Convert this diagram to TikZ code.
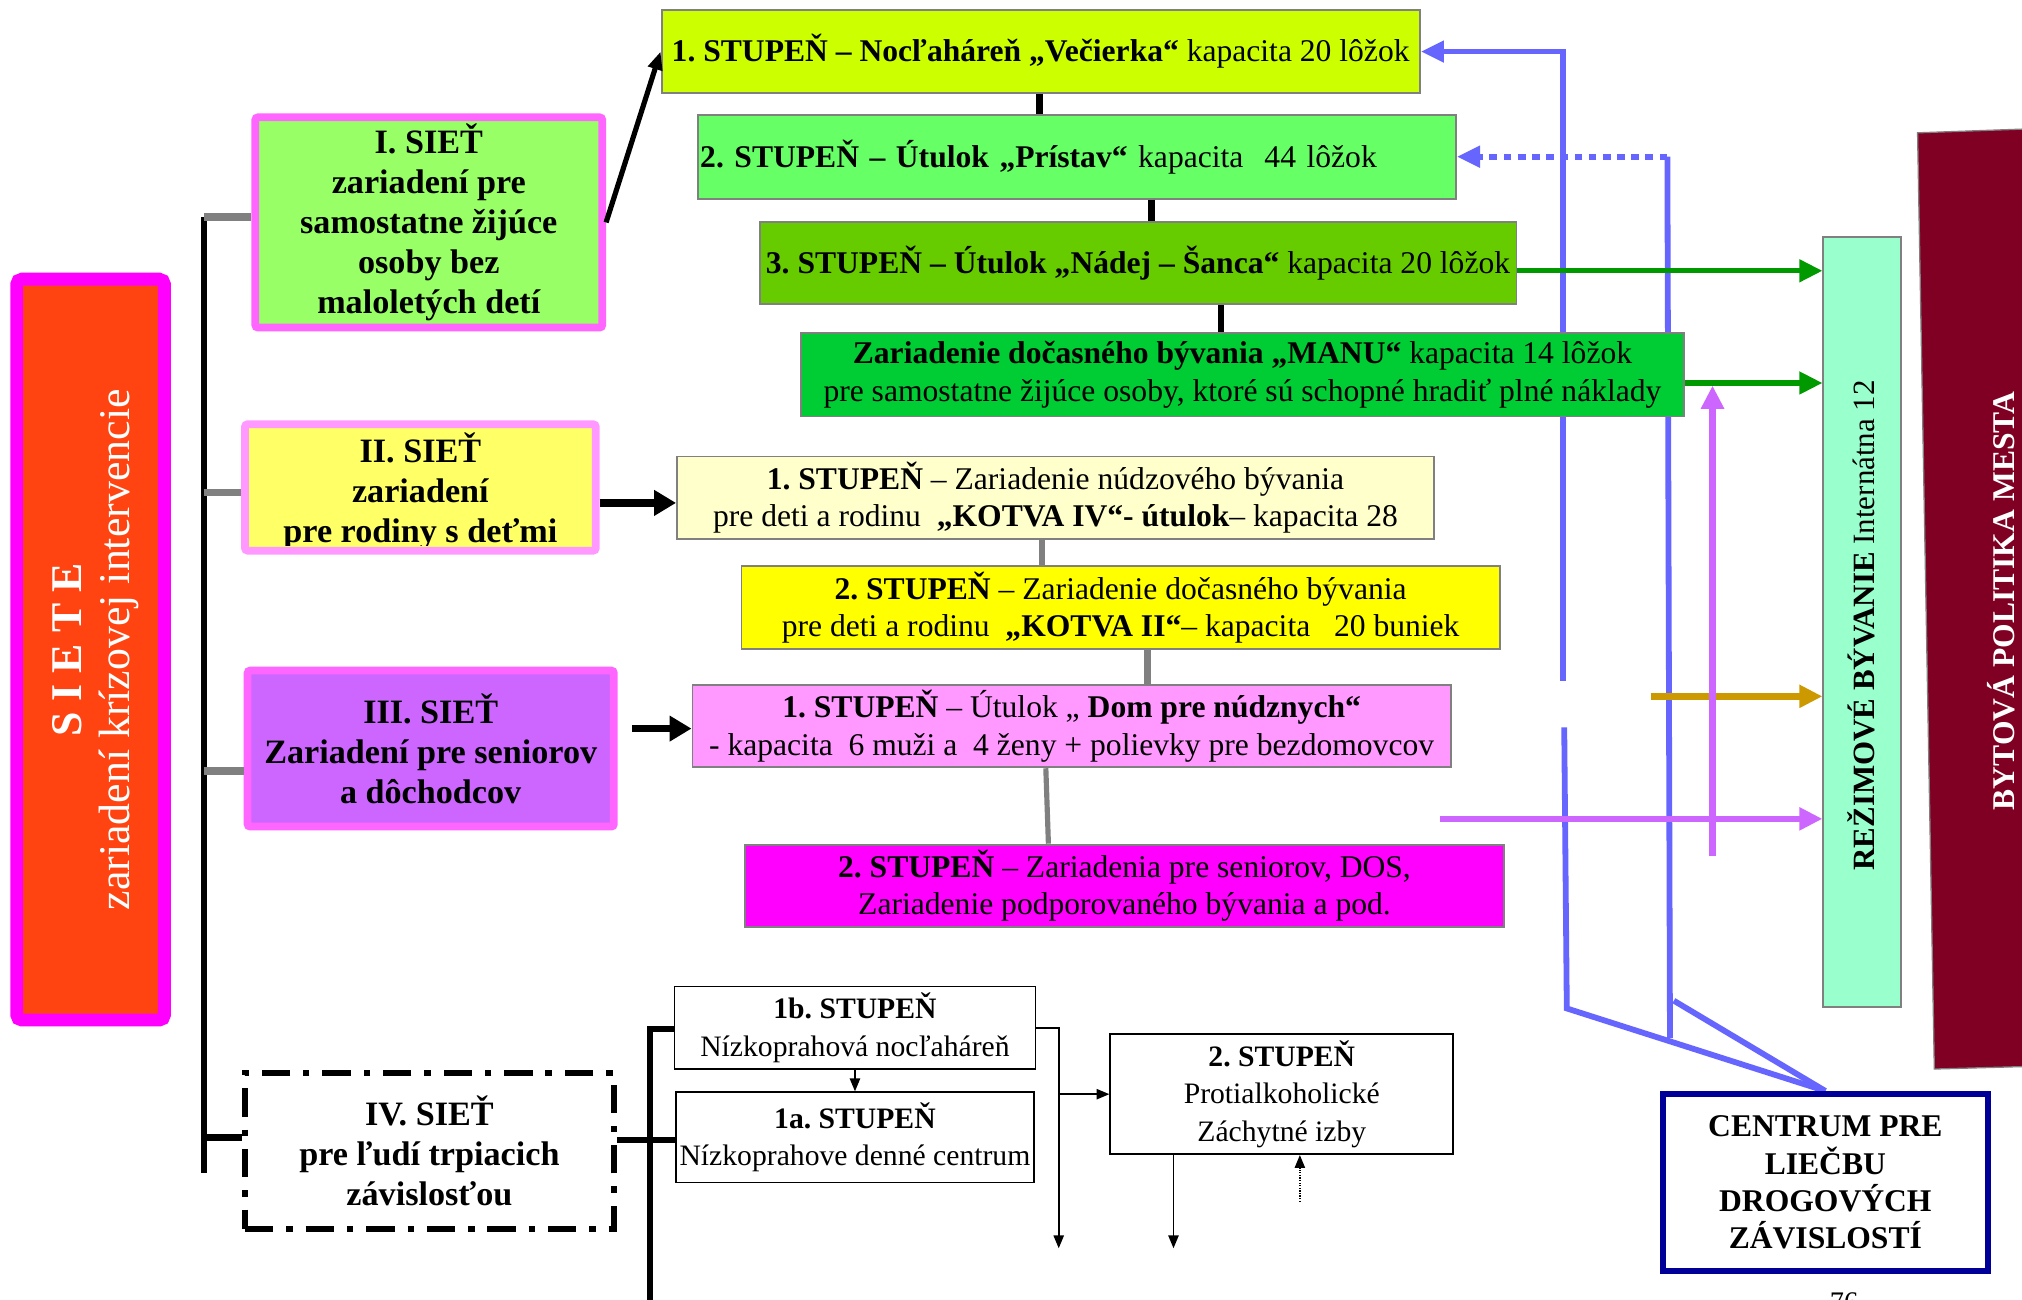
\documentclass[tikz,border=0pt]{standalone}
\usepackage{fontspec}
\setmainfont{Liberation Serif}
\usetikzlibrary{arrows.meta}
\frenchspacing
\pgfdeclarelayer{bg}
\pgfsetlayers{bg,main}
\definecolor{boxgray}{HTML}{808080}
\definecolor{cSa}{HTML}{CCFF00}
\definecolor{cSb}{HTML}{66FF66}
\definecolor{cSc}{HTML}{66CC00}
\definecolor{cManu}{HTML}{00CC33}
\definecolor{cKa}{HTML}{FFFFCC}
\definecolor{cKb}{HTML}{FFFF00}
\definecolor{cDom}{HTML}{FF99FF}
\definecolor{cDos}{HTML}{FF00FF}
\definecolor{cMint}{HTML}{99FFCC}
\definecolor{cMaroon}{HTML}{7F0022}
\definecolor{cRed}{HTML}{FF4411}
\definecolor{cMag}{HTML}{FF00FF}
\definecolor{cPink}{HTML}{FF66FF}
\definecolor{cPinkL}{HTML}{FF99FF}
\definecolor{cGreenL}{HTML}{99FF66}
\definecolor{cYel}{HTML}{FFFF66}
\definecolor{cViolet}{HTML}{CC66FF}
\definecolor{cBlue}{HTML}{6666FF}
\definecolor{cNavy}{HTML}{000099}
\definecolor{cGreenA}{HTML}{009900}
\definecolor{cGold}{HTML}{CC9900}
\newcommand\szStep{\fontsize{24.5}{29}\selectfont}
\newcommand\szNet{\fontsize{26.5}{31}\selectfont}
\newcommand\szLow{\fontsize{23}{29}\selectfont}
\tikzset{
  stepbox/.style={draw=boxgray, line width=1.5pt, inner sep=0pt, align=center, font=\szStep},
  netbox/.style={line width=6pt, inner sep=0pt, align=center, rounded corners=2pt, font=\szNet\bfseries},
  lowbox/.style={draw=black, line width=1.4pt, fill=white, inner sep=0pt, align=center, font=\szLow},
  blackconn/.style={line width=5pt, draw=black},
  grayconn/.style={line width=5pt, draw=boxgray},
  graystub/.style={line width=6pt, draw=boxgray},
  trunk/.style={line width=4.5pt, draw=black},
  bigarrow/.style={line width=6pt, -{Triangle[length=17pt,width=19pt]}},
  colarrow/.style={line width=4pt, -{Triangle[length=18pt,width=17pt]}},
  bluewire/.style={line width=4.5pt, draw=cBlue},
  thinarrow/.style={line width=1.2pt, -{Triangle[length=10pt,width=8pt]}},
  vlabel/.style={rotate=90, inner sep=0pt, align=center},
}
\begin{document}
\begin{tikzpicture}[x=1pt,y=-1pt]
\useasboundingbox (0,0) rectangle (1568,1008);

% ---------- left column ----------
\node[draw=cMag, fill=cRed, line width=10pt, rounded corners=4pt, minimum width=114.5pt, minimum height=574.5pt, inner sep=0pt] (siete) at (70.25,503.75) {};
\node[vlabel, text=white, font=\fontsize{34}{37}\selectfont] (sietelabel) at (74,504) {\textbf{S I E T E}\\zariadení krízovej intervencie};

\node[netbox, draw=cPink, fill=cGreenL, minimum width=269pt, minimum height=163pt] (netI) at (332.5,172.5) {I. SIEŤ\\zariadení pre\\samostatne žijúce\\osoby bez\\maloletých detí};
\node[netbox, draw=cPinkL, fill=cYel, minimum width=272pt, minimum height=98pt] (netII) at (326,378) {};
\begin{scope}
  \clip (193,332) rectangle (459,423);
  \node[font=\szNet\bfseries, align=center, inner sep=0pt] (netIIlabel) at (326,381) {II. SIEŤ\\zariadení\\pre rodiny s deťmi};
\end{scope}
\node[netbox, draw=cPink, fill=cViolet, minimum width=284pt, minimum height=121pt] (netIII) at (334,580.5) {III. SIEŤ\\Zariadení pre seniorov\\a dôchodcov};
\node[netbox, draw=black, fill=white, line width=5pt, rounded corners=0pt, dash pattern=on 22pt off 10pt on 5pt off 10pt, minimum width=286pt, minimum height=121pt] (netIV) at (333,892.5) {IV. SIEŤ\\pre ľudí trpiacich\\závislosťou};

% ---------- stage boxes ----------
\node[stepbox, fill=cSa, minimum width=588pt, minimum height=64pt] (s1) at (807,40) {\textbf{1. STUPEŇ – Nocľaháreň „Večierka“} kapacita 20 lôžok};
\node[stepbox, fill=cSb, minimum height=65pt, text width=584pt, align=left, inner xsep=2pt] (s2) at (835,121.5) {\textbf{2. STUPEŇ – Útulok „Prístav“} kapacita~ 44 lôžok};
\node[stepbox, fill=cSc, minimum width=587pt, minimum height=64pt] (s3) at (882.5,204) {\textbf{3. STUPEŇ – Útulok „Nádej – Šanca“} kapacita 20 lôžok};
\node[stepbox, fill=cManu, minimum width=685pt, minimum height=65pt] (manu) at (963.5,290.5) {\textbf{Zariadenie dočasného bývania „MANU“} kapacita 14 lôžok\\pre samostatne žijúce osoby, ktoré sú schopné hradiť plné náklady};
\node[stepbox, fill=cKa, minimum width=587pt, minimum height=64pt] (k4) at (818.5,386) {\textbf{1. STUPEŇ} – Zariadenie núdzového bývania\\pre deti a rodinu~ \textbf{„KOTVA IV“- útulok}– kapacita 28};
\node[stepbox, fill=cKb, minimum width=588pt, minimum height=64pt] (k2) at (869,471) {\textbf{2. STUPEŇ} – Zariadenie dočasného bývania\\pre deti a rodinu~ \textbf{„KOTVA II“}– kapacita~~ 20 buniek};
\node[stepbox, fill=cDom, minimum width=588pt, minimum height=64pt] (dom) at (831,563) {\textbf{1. STUPEŇ} – Útulok „ \textbf{Dom pre núdznych“}\\- kapacita~ 6 muži a~ 4 ženy + polievky pre bezdomovcov};
\node[stepbox, fill=cDos, minimum width=588pt, minimum height=64pt] (dos) at (872,687) {\textbf{2. STUPEŇ} – Zariadenia pre seniorov, DOS,\\Zariadenie podporovaného bývania a pod.};

% ---------- bottom boxes ----------
\node[lowbox, minimum width=280pt, minimum height=64pt] (bb) at (663,797) {\textbf{1b. STUPEŇ}\\Nízkoprahová nocľaháreň};
\node[lowbox, minimum width=278pt, minimum height=70pt] (ba) at (663,882) {\textbf{1a. STUPEŇ}\\Nízkoprahove denné centrum};
\node[lowbox, minimum width=266pt, minimum height=93pt] (bz) at (994,848.5) {\textbf{2. STUPEŇ}\\Protialkoholické\\Záchytné izby};
\node[draw=cNavy, line width=5pt, fill=white, minimum width=252pt, minimum height=137pt, inner sep=0pt, align=center, font=\fontsize{24.5}{29}\selectfont\bfseries] (centrum) at (1415.5,917) {CENTRUM PRE\\LIEČBU\\DROGOVÝCH\\ZÁVISLOSTÍ};

% ---------- right column ----------
\node[draw=boxgray, line width=1.5pt, fill=cMint, minimum width=60pt, minimum height=597pt, inner sep=0pt] (mint) at (1444,482.5) {};
\node[vlabel, font=\fontsize{24}{28}\selectfont] (mintlabel) at (1443,485) {\textbf{REŽIMOVÉ BÝVANIE} Internátna 12};
\node[vlabel, text=white, font=\fontsize{24.5}{28}\selectfont\bfseries] (bytlabel) at (1552,466) {BYTOVÁ POLITIKA MESTA};
\node[anchor=north, inner sep=0pt, font=\fontsize{22}{26}\selectfont] (pagenum) at (1430,1002) {76};

% ---------- coordinates ----------
\coordinate (xa) at (806,0);
\coordinate (xb) at (893,0);
\coordinate (xc) at (947,0);
\coordinate (xd) at (808,0);
\coordinate (xe) at (890,0);
\coordinate (xf) at (811,0);
\coordinate (xg) at (813,0);
\coordinate (trTop) at (158,168);
\coordinate (trBot) at (158,910);
\coordinate (trB) at (158,382);
\coordinate (trC) at (158,598);
\coordinate (trD) at (158,882);
\coordinate (yII) at (0,390);
\coordinate (aIIIs) at (490,565);
\coordinate (vTop) at (504,798);
\coordinate (vBot) at (504,1012);
\coordinate (yIV) at (0,884);
\coordinate (rx) at (821,0);
\coordinate (rEnd) at (821,968);
\coordinate (dx) at (910,0);
\coordinate (dEnd) at (910,968);
\coordinate (dotSt) at (1008,932);
\coordinate (bA1) at (1215,782);
\coordinate (bA2) at (1213,564);
\coordinate (bA3) at (1212,528);
\coordinate (bA4) at (1212,40);
\coordinate (bB1) at (1298,776);
\coordinate (bB2) at (1295,805);
\coordinate (bB3) at (1293,121.5);
\coordinate (yG1) at (0,210);
\coordinate (yG2) at (0,297);
\coordinate (goldSt) at (1280,540);
\coordinate (purSt) at (1117,635);
\coordinate (pvSt) at (1328,664);
\coordinate (pvEnd) at (1328,299);

% ---------- connectors ----------
\draw[blackconn] (s1.south -| xa) -- (s2.north -| xa);
\draw[blackconn] (s2.south -| xb) -- (s3.north -| xb);
\draw[blackconn] (s3.south -| xc) -- (manu.north -| xc);
\draw[grayconn] (k4.south -| xd) -- (k2.north -| xd);
\draw[grayconn] (k2.south -| xe) -- (dom.north -| xe);
\draw[grayconn, line width=4pt] (dom.south -| xf) -- (dos.north -| xg);

\draw[trunk] (trTop) -- (trBot);
\draw[graystub] (trTop) -- (netI.west |- trTop);
\draw[graystub] (trB) -- (netII.west |- trB);
\draw[graystub] (trC) -- (netIII.west |- trC);
\draw[trunk, line width=5pt] (trD) -- (netIV.west |- trD);

\draw[line width=4pt, -{Triangle[length=14pt,width=11pt]}] (netI.east) -- (s1.west);
\draw[bigarrow] (netII.east |- yII) -- (k4.west |- yII);
\draw[bigarrow] (aIIIs) -- (dom.west |- aIIIs);

\draw[trunk] (vBot) -- (vTop) -- (bb.west |- vTop);
\draw[trunk] (netIV.east |- yIV) -- (ba.west |- yIV);
\draw[thinarrow] (bb.south) -- (ba.north);
\draw[thinarrow] (bb.east) -- (bb.east -| rx) -- (rEnd);
\draw[thinarrow] (rx |- bz.west) -- (bz.west);
\draw[thinarrow] (bz.south -| dx) -- (dEnd);
\draw[thinarrow, line width=1pt, densely dotted] (dotSt) -- (bz.south -| dotSt);

\begin{pgfonlayer}{bg}
  \fill[cMaroon, draw=boxgray, line width=1pt] (1487,103) -- (1572,100) -- (1572,827) -- (1500,829) -- cycle;
  \draw[bluewire] (centrum.north) -- (bA1) -- (bA2);
  \draw[bluewire, -{Triangle[length=18pt,width=16pt]}] (bA3) -- (bA4) -- (s1.east);
  \draw[bluewire] (centrum.north) -- (bB1);
  \draw[bluewire] (bB2) -- (bB3);
  \draw[bluewire, dash pattern=on 6pt off 5pt, -{Triangle[length=18pt,width=16pt]}] (bB3) -- (s2.east);
  \draw[colarrow, cGreenA] (s3.east |- yG1) -- (mint.west |- yG1);
  \draw[colarrow, cGreenA] (manu.east |- yG2) -- (mint.west |- yG2);
  \draw[colarrow, cGold, line width=5pt] (goldSt) -- (mint.west |- goldSt);
  \draw[colarrow, cViolet, line width=5pt] (purSt) -- (mint.west |- purSt);
  \draw[colarrow, cViolet, line width=5pt] (pvSt) -- (pvEnd);
\end{pgfonlayer}
\end{tikzpicture}
\end{document}
